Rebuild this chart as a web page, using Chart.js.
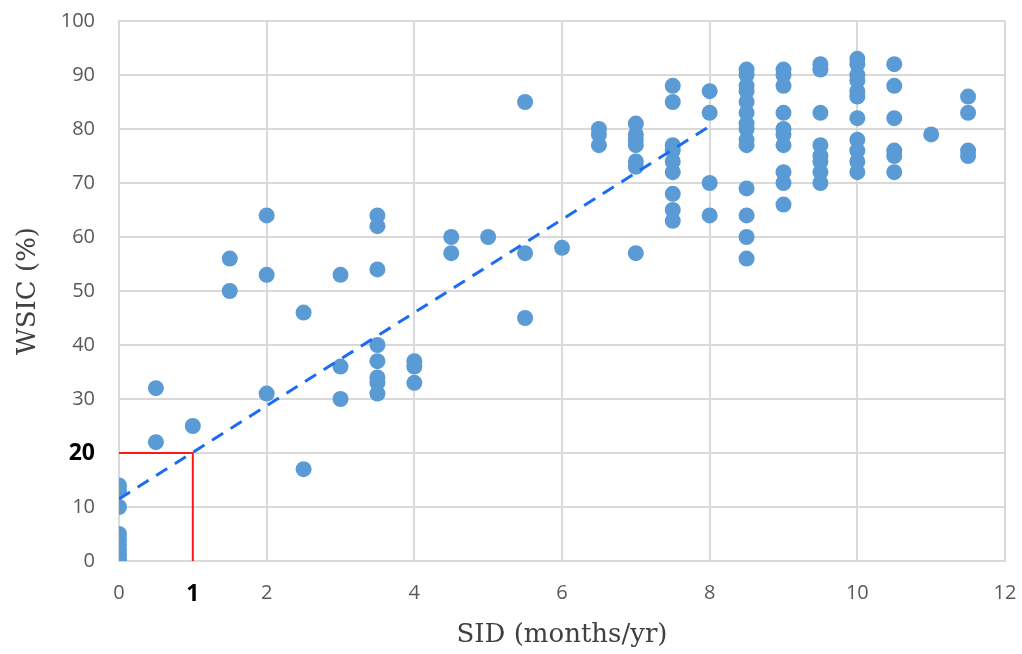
<!DOCTYPE html>
<html>
<head>
<meta charset="utf-8">
<script src="https://cdn.jsdelivr.net/npm/chart.js@4/dist/chart.umd.min.js"></script>
<style>
  html, body { margin: 0; padding: 0; background: #fff; }
  #wrap { width: 1022px; height: 654px; }
</style>
</head>
<body>
<div id="wrap"><canvas id="graph1" width="1022" height="654"></canvas></div>
<script>
// SID (months/yr) e WSIC (%) de cada ponto
const sid = [
  0, 0, 0, 0, 0, 0, 0, 0, 0, 0,
  0.5, 0.5, 1, 1.5, 1.5, 2, 2, 2, 2.5, 2.5,
  3, 3, 3,
  3.5, 3.5, 3.5, 3.5, 3.5, 3.5, 3.5, 3.5,
  4, 4, 4, 4.5, 4.5, 5, 5.5, 5.5, 5.5, 6,
  6.5, 6.5, 6.5,
  7, 7, 7, 7, 7, 7, 7,
  7.5, 7.5, 7.5, 7.5, 7.5, 7.5, 7.5, 7.5, 7.5,
  8, 8, 8, 8,
  8.5, 8.5, 8.5, 8.5, 8.5, 8.5, 8.5, 8.5, 8.5, 8.5, 8.5, 8.5, 8.5, 8.5,
  9, 9, 9, 9, 9, 9, 9, 9, 9, 9,
  9.5, 9.5, 9.5, 9.5, 9.5, 9.5, 9.5, 9.5,
  10, 10, 10, 10, 10, 10, 10, 10, 10, 10, 10,
  10.5, 10.5, 10.5, 10.5, 10.5, 10.5,
  11,
  11.5, 11.5, 11.5, 11.5
];
const wsic = [
  14, 13, 10, 5, 4, 3, 2, 1, 0, 0,
  32, 22, 25, 56, 50, 64, 53, 31, 46, 17,
  53, 36, 30,
  64, 62, 54, 40, 37, 34, 33, 31,
  37, 36, 33, 60, 57, 60, 85, 57, 45, 58,
  80, 79, 77,
  81, 79, 78, 77, 74, 73, 57,
  88, 85, 77, 76, 74, 72, 68, 65, 63,
  87, 83, 70, 64,
  91, 90, 88, 87, 85, 83, 81, 80, 78, 77, 69, 64, 60, 56,
  91, 90, 88, 83, 80, 79, 77, 72, 70, 66,
  92, 91, 83, 77, 75, 74, 72, 70,
  93, 92, 90, 89, 87, 86, 82, 78, 76, 74, 72,
  92, 88, 82, 76, 75, 72,
  79,
  86, 83, 76, 75
];

// linha de tendência (tracejada) e linha guia vermelha
const trendX = [0, 8];
const trendY = [11.5, 80.5];
const guideX = [0, 1, 1];
const guideY = [20, 20, 0];

// rótulos dos eixos
const xTicks = [0, 1, 2, 4, 6, 8, 10, 12];
const yTicks = [0, 10, 20, 30, 40, 50, 60, 70, 80, 90, 100];

const toPoints = (xs, ys) => xs.map((x, i) => ({x: x, y: ys[i]}));

const normalFont = {family: 'Open Sans', size: 20};
const boldFont = {family: 'Open Sans', size: 23, weight: 'bold'};

const config = {
    type: 'scatter',
    data: {
        datasets: [
            {
                label: 'Tendência',
                data: toPoints(trendX, trendY),
                showLine: true,
                borderColor: '#1A6CF5',
                borderWidth: 3,
                borderDash: [13, 9],
                pointRadius: 0,
                order: 0,
            },
            {
                label: 'Guia',
                data: toPoints(guideX, guideY),
                showLine: true,
                borderColor: '#FF1A1A',
                borderWidth: 2,
                pointRadius: 0,
                order: 3,
            },
            {
                label: 'WSIC',
                data: toPoints(sid, wsic),
                backgroundColor: '#5B9BD5',
                borderWidth: 0,
                pointRadius: 8,
                order: 1,
            }
        ]
    },
    options: {
        responsive: false,
        animation: false,
        layout: { padding: { top: 21, right: 17, left: 0, bottom: 0 } },
        scales: {
            x: {
                type: 'linear',
                min: 0,
                max: 12,
                afterBuildTicks: (scale) => {
                    scale.ticks = xTicks.map(v => ({value: v}));
                },
                afterFit: (scale) => {
                    scale.height = 654 - 561;
                    scale.paddingLeft = 0;
                    scale.paddingRight = 0;
                },
                grid: {
                    color: (ctx) => (ctx.tick && ctx.tick.value === 1) ? 'rgba(0,0,0,0)' : '#D9D9D9',
                    lineWidth: 2,
                    drawTicks: false,
                },
                border: { color: '#D9D9D9', width: 2 },
                ticks: {
                    padding: 20,
                    color: (ctx) => (ctx.tick && ctx.tick.value === 1) ? '#000000' : '#595959',
                    font: (ctx) => (ctx.tick && ctx.tick.value === 1) ? boldFont : normalFont,
                    maxRotation: 0,
                    callback: (v) => String(v),
                },
                title: {
                    display: true,
                    text: 'SID (months/yr)',
                    color: '#404040',
                    font: { family: 'DejaVu Serif', size: 26 },
                    padding: { top: 0, bottom: 3 },
                },
            },
            y: {
                type: 'linear',
                min: 0,
                max: 100,
                afterBuildTicks: (scale) => {
                    scale.ticks = yTicks.map(v => ({value: v}));
                },
                afterFit: (scale) => {
                    scale.width = 119;
                    scale.paddingTop = 0;
                    scale.paddingBottom = 0;
                },
                grid: {
                    color: '#D9D9D9',
                    lineWidth: 2,
                    drawTicks: false,
                },
                border: { color: '#D9D9D9', width: 2 },
                ticks: {
                    padding: 24,
                    color: (ctx) => (ctx.tick && ctx.tick.value === 20) ? '#000000' : '#595959',
                    font: (ctx) => (ctx.tick && ctx.tick.value === 20) ? boldFont : normalFont,
                },
                title: {
                    display: true,
                    text: 'WSIC (%)',
                    color: '#404040',
                    font: { family: 'DejaVu Serif', size: 26 },
                    padding: { top: 13, bottom: 0 },
                },
            }
        },
        plugins: {
            legend: { display: false },
            tooltip: { enabled: false },
        },
    }
};

const chart = new Chart(document.getElementById('graph1'), config);
</script>
</body>
</html>
